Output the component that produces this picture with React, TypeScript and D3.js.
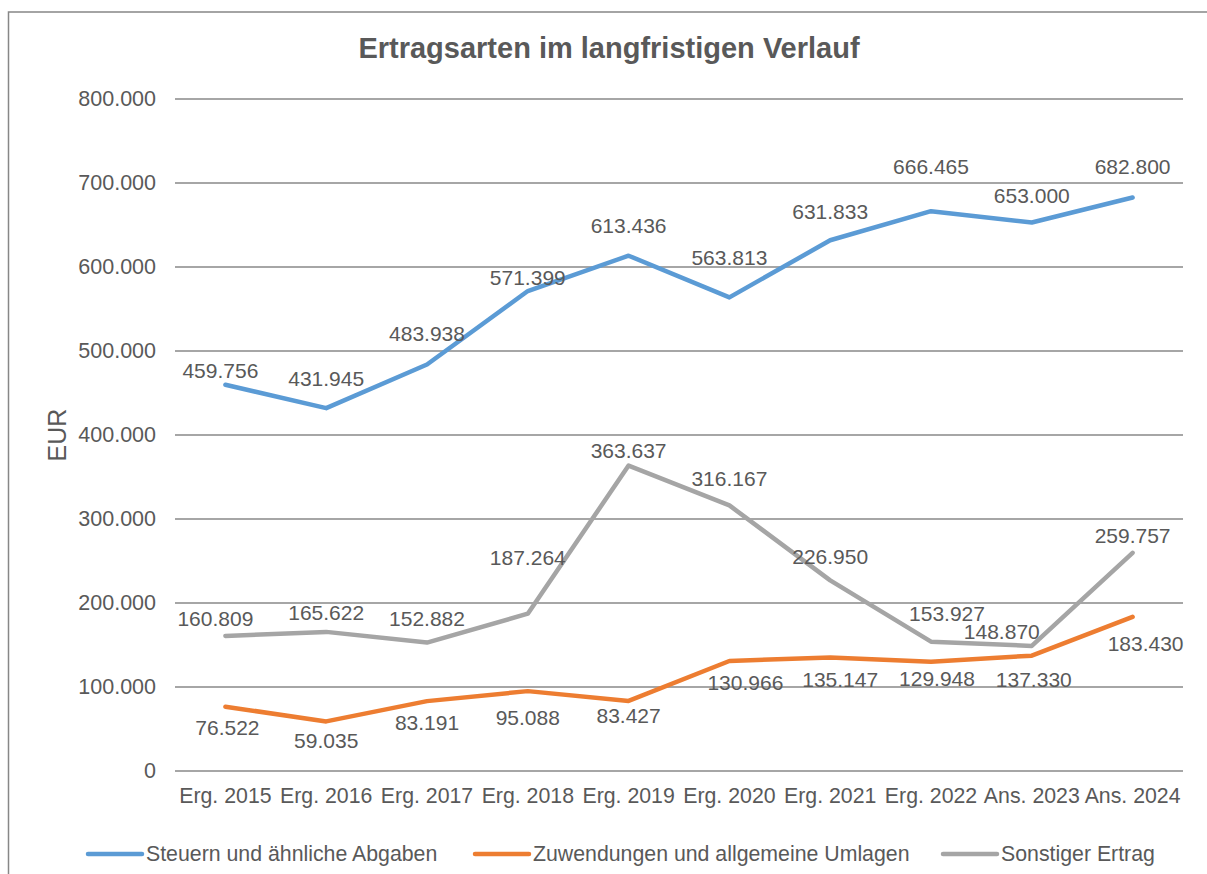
import React from 'react';
import * as d3 from 'd3';

// chart values
const categories = [
	'Erg. 2015', 'Erg. 2016', 'Erg. 2017', 'Erg. 2018', 'Erg. 2019',
	'Erg. 2020', 'Erg. 2021', 'Erg. 2022', 'Ans. 2023', 'Ans. 2024',
];
const steuern = [459756, 431945, 483938, 571399, 613436, 563813, 631833, 666465, 653000, 682800];
const zuwendungen = [76522, 59035, 83191, 95088, 83427, 130966, 135147, 129948, 137330, 183430];
const sonstiger = [160809, 165622, 152882, 187264, 363637, 316167, 226950, 153927, 148870, 259757];
const yTicks = [0, 100000, 200000, 300000, 400000, 500000, 600000, 700000, 800000];

const seriesNames = ['Steuern und ähnliche Abgaben', 'Zuwendungen und allgemeine Umlagen', 'Sonstiger Ertrag'];

// label placement relative to point (layout only)
const labelShift = {
	steuern: [[-5, -14], [0, -30], [0, -31], [0, -13], [0, -30], [0, -40], [0, -29], [0, -45], [0, -27], [0, -31]],
	zuwendungen: [[2, 21], [0, 19], [0, 22], [0, 27], [0, 15], [16, 22], [10, 22], [6, 17], [2, 24], [13, 27]],
	sonstiger: [[-10, -17], [0, -19], [0, -24], [0, -56], [0, -15], [0, -27], [0, -24], [16, -28], [-30, -14], [0, -17]],
};

const fmt = (v: number) =>
	v === 0 ? '0' : d3.format(',')(v).replace(/,/g, '.');

const textColor = '#595959';
const font = 'Liberation Sans, Arial, sans-serif';

const useD3 = (renderChartFn: (s: any) => void, dependencies: any[]) => {
	const ref = React.useRef<SVGSVGElement>(null);
	React.useEffect(() => {
		renderChartFn(d3.select(ref.current));
	}, dependencies);
	return ref;
};

function Chart() {
	const ref = useD3((svg) => {
		svg.selectAll('*').remove();
		const width = 1207;
		const height = 874;
		const margin = { top: 99, right: 24, bottom: 103, left: 175 };

		const x = d3
			.scaleBand()
			.domain(categories)
			.range([margin.left, width - margin.right]);

		const y = d3
			.scaleLinear()
			.domain([0, 800000])
			.range([height - margin.bottom, margin.top]);

		// outer border
		svg
			.append('rect')
			.attr('x', 8.5)
			.attr('y', 12)
			.attr('width', 1300)
			.attr('height', 1000)
			.attr('fill', 'white')
			.attr('stroke', '#878787')
			.attr('stroke-width', 1.5);

		svg
			.append('text')
			.attr('x', 609)
			.attr('y', 58)
			.attr('text-anchor', 'middle')
			.attr('font-family', font)
			.attr('font-weight', 'bold')
			.attr('font-size', 29)
			.attr('fill', textColor)
			.text('Ertragsarten im langfristigen Verlauf');

		// grid
		const grid = svg.append('g');
		grid
			.selectAll('line')
			.data(yTicks)
			.join('line')
			.attr('x1', margin.left)
			.attr('x2', width - margin.right)
			.attr('y1', (d) => y(d))
			.attr('y2', (d) => y(d))
			.attr('stroke', '#898989')
			.attr('stroke-width', 1.5);

		const yAxis = svg
			.append('g')
			.attr('transform', `translate(${margin.left - 19},0)`)
			.call(d3.axisLeft(y).tickValues(yTicks).tickFormat((d) => fmt(+d)).tickSize(0).tickPadding(0));
		yAxis.select('.domain').remove();
		yAxis
			.selectAll('text')
			.attr('font-family', font)
			.attr('font-size', 21.5)
			.attr('fill', textColor);

		const xAxis = svg
			.append('g')
			.attr('transform', `translate(0,${height - margin.bottom})`)
			.call(d3.axisBottom(x).tickSize(0).tickPadding(17));
		xAxis.select('.domain').remove();
		xAxis
			.selectAll('text')
			.attr('font-family', font)
			.attr('font-size', 21.3)
			.attr('fill', textColor);

		svg
			.append('text')
			.attr('transform', 'translate(66,435) rotate(-90)')
			.attr('text-anchor', 'middle')
			.attr('font-family', font)
			.attr('font-size', 25)
			.attr('fill', textColor)
			.text('EUR');

		const series = [
			{ key: 'steuern', values: steuern, color: '#5B9BD5' },
			{ key: 'zuwendungen', values: zuwendungen, color: '#ED7D31' },
			{ key: 'sonstiger', values: sonstiger, color: '#A5A5A5' },
		];

		const cx = (i: number) => (x(categories[i]) as number) + x.bandwidth() / 2;
		const line = d3
			.line<number>()
			.x((d, i) => cx(i))
			.y((d) => y(d));

		series.forEach((s) => {
			svg
				.append('path')
				.datum(s.values)
				.attr('d', line)
				.attr('fill', 'none')
				.attr('stroke', s.color)
				.attr('stroke-width', 4.5)
				.attr('stroke-linejoin', 'round')
				.attr('stroke-linecap', 'round');
		});

		series.forEach((s) => {
			const shift = (labelShift as any)[s.key];
			svg
				.append('g')
				.selectAll('text')
				.data(s.values)
				.join('text')
				.attr('x', (d, i) => cx(i) + shift[i][0])
				.attr('y', (d, i) => y(d) + shift[i][1])
				.attr('dy', '0.35em')
				.attr('text-anchor', 'middle')
				.attr('font-family', font)
				.attr('font-size', 21)
				.attr('fill', textColor)
				.text((d) => fmt(d));
		});

		// legend
		const legendX = [88, 475, 943];
		const legend = svg
			.append('g')
			.selectAll('g')
			.data(series)
			.join('g')
			.attr('transform', (d, i) => `translate(${legendX[i]},854)`);
		legend
			.append('line')
			.attr('x1', 0)
			.attr('x2', 54)
			.attr('stroke', (d) => d.color)
			.attr('stroke-width', 4.5)
			.attr('stroke-linecap', 'round');
		legend
			.append('text')
			.attr('x', 58)
			.attr('dy', '0.35em')
			.attr('font-family', font)
			.attr('font-size', 21.3)
			.attr('fill', textColor)
			.text((d, i) => seriesNames[i]);
	}, []);

	return (
		<svg
			ref={ref}
			width={1207}
			height={874}
			style={{ position: 'absolute', left: 0, top: 0, display: 'block' }}
		/>
	);
}

export default function App() {
	return <Chart />;
}
